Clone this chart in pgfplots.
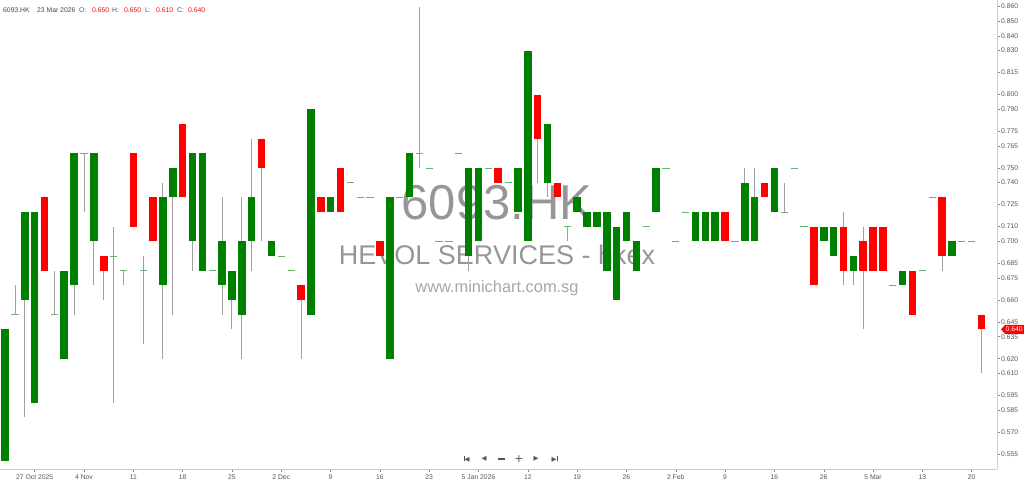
\documentclass[border=0pt]{standalone}
\usepackage{fontspec}
\setmainfont{Liberation Sans}
\newfontfamily\dejavu{DejaVu Sans}
\usepackage{pgfplots}
\usepackage{pgfplotstable}
\pgfplotsset{compat=1.18}

\definecolor{upgreen}{RGB}{0,128,0}
\definecolor{downred}{RGB}{255,0,0}
\definecolor{wick}{RGB}{160,160,160}
\definecolor{doji}{RGB}{105,180,105}
\definecolor{txt}{RGB}{85,85,85}
\definecolor{axisgray}{RGB}{205,205,205}
\definecolor{wm}{RGB}{150,150,150}

% slot = trading day index, o h l c
\pgfplotstableread{
x  o    h    l    c
0  0.55 0.64 0.55 0.64
2  0.66 0.72 0.58 0.72
3  0.59 0.72 0.59 0.72
6  0.62 0.68 0.62 0.68
7  0.67 0.76 0.65 0.76
9  0.70 0.76 0.67 0.76
16 0.67 0.74 0.62 0.73
17 0.73 0.75 0.65 0.75
19 0.70 0.76 0.68 0.76
20 0.68 0.76 0.68 0.76
22 0.67 0.73 0.65 0.70
23 0.66 0.68 0.64 0.68
24 0.65 0.73 0.62 0.70
25 0.70 0.77 0.68 0.73
27 0.69 0.70 0.69 0.70
31 0.65 0.79 0.65 0.79
33 0.72 0.73 0.72 0.73
39 0.62 0.73 0.62 0.73
41 0.73 0.76 0.73 0.76
47 0.69 0.75 0.68 0.75
48 0.70 0.75 0.70 0.75
52 0.72 0.75 0.72 0.75
53 0.70 0.83 0.70 0.83
55 0.74 0.78 0.73 0.78
58 0.72 0.73 0.72 0.73
59 0.71 0.72 0.71 0.72
60 0.71 0.72 0.71 0.72
61 0.68 0.72 0.68 0.72
62 0.66 0.71 0.66 0.71
63 0.70 0.72 0.70 0.72
64 0.68 0.70 0.68 0.70
66 0.72 0.75 0.72 0.75
70 0.70 0.72 0.70 0.72
71 0.70 0.72 0.70 0.72
72 0.70 0.72 0.70 0.72
75 0.70 0.75 0.70 0.74
76 0.70 0.75 0.70 0.73
78 0.72 0.75 0.72 0.75
83 0.70 0.71 0.70 0.71
84 0.69 0.71 0.69 0.71
86 0.68 0.69 0.67 0.69
91 0.67 0.68 0.67 0.68
96 0.69 0.70 0.69 0.70
}\up

\pgfplotstableread{
x  o    h    l    c
4  0.73 0.73 0.68 0.68
10 0.69 0.69 0.66 0.68
13 0.76 0.76 0.71 0.71
15 0.73 0.73 0.70 0.70
18 0.78 0.78 0.73 0.73
26 0.77 0.77 0.70 0.75
30 0.67 0.67 0.62 0.66
32 0.73 0.73 0.72 0.72
34 0.75 0.75 0.72 0.72
38 0.70 0.70 0.69 0.69
50 0.75 0.75 0.74 0.74
54 0.80 0.80 0.74 0.77
56 0.74 0.74 0.73 0.73
73 0.72 0.72 0.70 0.70
77 0.74 0.74 0.73 0.73
82 0.71 0.71 0.67 0.67
85 0.71 0.72 0.67 0.68
87 0.70 0.71 0.64 0.68
88 0.71 0.71 0.68 0.68
89 0.71 0.71 0.68 0.68
92 0.68 0.68 0.65 0.65
95 0.73 0.73 0.68 0.69
99 0.65 0.65 0.61 0.64
}\down

\pgfplotstableread{
x  o    h    l    c
1  0.65 0.67 0.65 0.65
5  0.65 0.68 0.65 0.65
8  0.76 0.76 0.72 0.76
11 0.69 0.71 0.59 0.69
12 0.68 0.68 0.67 0.68
14 0.68 0.69 0.63 0.68
21 0.68 0.68 0.68 0.68
28 0.69 0.69 0.69 0.69
29 0.68 0.68 0.68 0.68
35 0.74 0.74 0.74 0.74
36 0.73 0.73 0.73 0.73
37 0.73 0.73 0.73 0.73
40 0.73 0.73 0.73 0.73
42 0.76 0.86 0.75 0.76
43 0.75 0.75 0.75 0.75
44 0.70 0.70 0.70 0.70
45 0.70 0.70 0.70 0.70
46 0.76 0.76 0.76 0.76
49 0.75 0.75 0.75 0.75
51 0.74 0.74 0.74 0.74
57 0.71 0.71 0.70 0.71
65 0.71 0.71 0.71 0.71
67 0.75 0.75 0.75 0.75
68 0.70 0.70 0.70 0.70
69 0.72 0.72 0.72 0.72
74 0.70 0.70 0.70 0.70
79 0.72 0.74 0.72 0.72
80 0.75 0.75 0.75 0.75
81 0.71 0.71 0.71 0.71
90 0.67 0.67 0.67 0.67
93 0.68 0.68 0.68 0.68
94 0.73 0.73 0.73 0.73
97 0.70 0.70 0.70 0.70
98 0.70 0.70 0.70 0.70
}\doji

\pgfplotsset{
  wicks/.style={only marks, mark size=0pt, mark options={draw=none, fill=none},
    error bars/.cd, y dir=plus, y explicit, error mark=none,
    error bar style={draw=wick, line width=0.9pt}},
  body/.style={only marks, mark size=0pt, mark options={draw=none, fill=none},
    error bars/.cd, y dir=plus, y explicit, error mark=none,
    error bar style={draw=#1, line width=7.6pt}},
}

\begin{document}
\begin{tikzpicture}[x=1pt,y=1pt]
% watermark, under the candles
\node[anchor=base, font=\fontsize{49}{49}\selectfont, text=wm] at (497,249) {6093.HK};
\node[anchor=base, font=\fontsize{27}{27}\selectfont, text=wm] at (497,204) {HEVOL SERVICES - hkex};
\node[anchor=base, font=\fontsize{16.4}{16.4}\selectfont, text=wm!85] at (497,176) {www.minichart.com.sg};

\begin{axis}[
  name=ax, scale only axis, width=997pt, height=469pt,
  at={(0,0)}, anchor=south west,
  xmin=-0.517, xmax=100.57, ymin=0.5448, ymax=0.8645,
  axis x line*=bottom, axis y line*=right,
  axis line style={draw=axisgray, -},
  tick align=outside, major tick length=3pt,
  tick style={draw=txt!70, line width=0.4pt},
  xtick={3,8,...,98},
  xticklabels={27 Oct 2025,4 Nov,11,18,25,2 Dec,9,16,23,5 Jan 2026,12,19,26,2 Feb,9,16,26,5 Mar,13,20},
  ytick={0.555,0.570,0.585,0.595,0.610,0.620,0.635,0.645,0.660,0.675,0.685,0.700,0.710,0.725,0.740,0.750,0.765,0.775,0.790,0.800,0.815,0.830,0.840,0.850,0.860},
  scaled y ticks=false,
  yticklabel style={/pgf/number format/.cd, fixed, fixed zerofill, precision=3, assume math mode=true},
  ticklabel style={font=\fontsize{6.8}{7}\selectfont, text=txt, inner sep=1pt},
  xticklabel style={yshift=-1.5pt},
]
\addplot[wicks] table[x=x, y=l, y error plus expr=\thisrow{h}-\thisrow{l}] {\up};
\addplot[wicks] table[x=x, y=l, y error plus expr=\thisrow{h}-\thisrow{l}] {\down};
\addplot[wicks] table[x=x, y=l, y error plus expr=\thisrow{h}-\thisrow{l}] {\doji};
\addplot[body=upgreen] table[x=x, y=o, y error plus expr=\thisrow{c}-\thisrow{o}] {\up};
\addplot[body=downred] table[x=x, y=c, y error plus expr=\thisrow{o}-\thisrow{c}] {\down};
\addplot[only marks, mark=-, mark size=3.6pt, mark options={draw=doji, line width=0.8pt}]
  table[x=x, y=c] {\doji};
\coordinate (last) at (axis cs:100.57,0.640);
\end{axis}

% last price marker
\fill[downred] ([xshift=4pt]last) -- ++(4pt,4.5pt) -- ++(20pt,0) -- ++(0,-9pt) -- ++(-20pt,0) -- cycle;
\node[anchor=west, inner sep=0pt, font=\fontsize{6.8}{7}\selectfont, text=white] at ([xshift=8.5pt]last) {0.640};

% header
\begin{scope}[font=\fontsize{6.8}{7}\selectfont, every node/.style={anchor=base west, inner sep=0pt}]
\node[text=txt!80!black] at (3,456.5) {6093.HK};
\node[text=txt!80!black] at (37,456.5) {23 Mar 2026};
\node[text=txt] at (79,456.5) {O:};
\node[text=downred] at (92,456.5) {0.650};
\node[text=txt] at (112,456.5) {H:};
\node[text=downred] at (124,456.5) {0.650};
\node[text=txt] at (145,456.5) {L:};
\node[text=downred] at (156,456.5) {0.610};
\node[text=txt] at (177,456.5) {C:};
\node[text=downred] at (188,456.5) {0.640};
\end{scope}

% navigation buttons
\begin{scope}[every node/.style={inner sep=0pt, text=txt, font=\dejavu\fontsize{6.5}{7}\selectfont}]
\node at (466.5,10) {\rule{0.8pt}{5.5pt}\kern0.2pt◀};
\node at (484,10) {◀};
\fill[txt] (498,9.4) rectangle (505,10.6);
\node[font=\dejavu\fontsize{11}{11}\selectfont] at (519,10) {+};
\node at (536,10) {▶};
\node at (554.5,10) {▶\kern0.2pt\rule{0.8pt}{5.5pt}};
\end{scope}

\pgfresetboundingbox
\path[use as bounding box] ([yshift=-15pt]ax.south west) rectangle ([xshift=27pt]ax.north east);
\end{tikzpicture}
\end{document}
